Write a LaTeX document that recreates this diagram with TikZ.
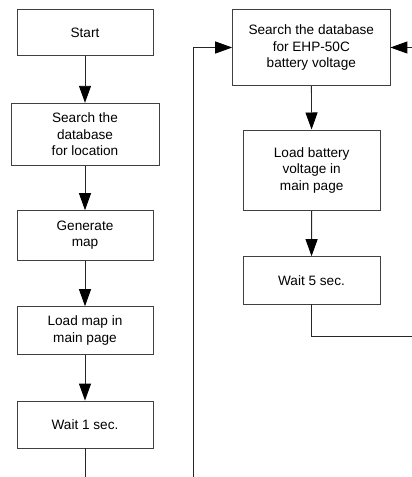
\documentclass[tikz,border=0pt]{standalone}
\usepackage{fontspec}
\setmainfont{Liberation Sans}
\usetikzlibrary{arrows.meta}
\begin{document}
\begin{tikzpicture}[x=1pt,y=-1pt,
  stepbox/.style={draw=black!75, line width=0.9pt, minimum width=#1, align=center,
    inner sep=0pt, font=\fontsize{13.6}{16.5}\selectfont},
  flow/.style={draw=black!85, line width=0.9pt,
    -{Triangle[length=17pt,width=12pt,fill=black,color=black]}},
  plain/.style={draw=black!85, line width=0.9pt}]
\useasboundingbox (0,0) rectangle (412,477);

% left column
\node[stepbox=136pt, minimum height=46pt]   (start)  at (85,32.5)  {Start};
\node[stepbox=148pt, minimum height=62.5pt] (search) at (85,134.5) {Search the\\database\\for location};
\node[stepbox=136pt, minimum height=49.5pt] (gen)    at (85,235.4) {Generate\\map};
\node[stepbox=136pt, minimum height=47.5pt] (load)   at (85,330.4) {Load map in\\main page};
\node[stepbox=136pt, minimum height=47pt]   (wait1)  at (85,424.5) {Wait 1 sec.};

% right column
\node[stepbox=157.3pt, minimum height=76.4pt] (ehp)     at (311.3,47.5)  {Search the database\\for EHP-50C\\battery voltage};
\node[stepbox=136.7pt, minimum height=80.7pt] (loadbat) at (311.7,170.3) {Load battery\\voltage in\\main page};
\node[stepbox=137pt,   minimum height=47.3pt] (wait5)   at (311.5,280.3) {Wait 5 sec.};

% free ends
\coordinate (lb) at (85,477);
\coordinate (loopin) at (193.3,477);
\coordinate (rout) at (412,336);
\coordinate (rin) at (412,47.5);

\draw[flow] (start) -- (search);
\draw[flow] (search) -- (gen);
\draw[flow] (gen) -- (load);
\draw[flow] (load) -- (wait1);
\draw[plain] (wait1.south) -- (lb);

\draw[flow] (loopin) |- (ehp.west);
\draw[flow] (ehp) -- (loadbat);
\draw[flow] (loadbat) -- (wait5);
\draw[plain] (wait5.south) |- (rout);
\draw[flow] (rin) -- (ehp.east);
\end{tikzpicture}
\end{document}
